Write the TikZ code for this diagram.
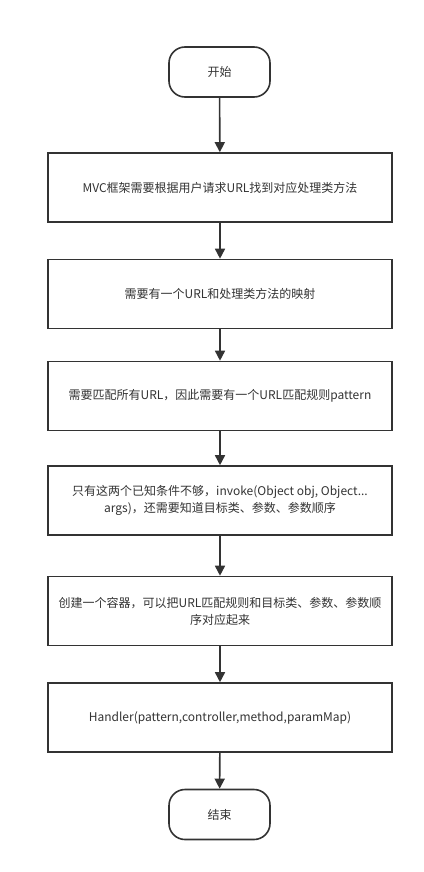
\documentclass[tikz,border=0pt]{standalone}
\usepackage{fontspec}
\setmainfont{Noto Sans CJK SC}
\usetikzlibrary{arrows.meta}
\definecolor{ink}{HTML}{333333}
\begin{document}
\begin{tikzpicture}[x=1pt,y=-1pt,
  term/.style={draw=ink,line width=1.6pt,rounded corners=16pt,minimum width=101pt,minimum height=50pt,text=ink,font=\fontsize{12}{17}\selectfont},
  stepbox/.style={draw=ink,line width=1.6pt,minimum width=344pt,minimum height=69pt,text=ink,align=center,font=\fontsize{12}{17}\selectfont},
  flow/.style={draw=ink,line width=1.6pt,-{Triangle[width=10pt,length=10pt]}}]
\useasboundingbox (0,0) rectangle (423,872);
\fill[white] (0,0) rectangle (423,872);
\node[term] (start) at (219.5,72) {开始};
\node[stepbox] (b1) at (220,187.5) {MVC框架需要根据用户请求URL找到对应处理类方法};
\node[stepbox] (b2) at (220,294) {需要有一个URL和处理类方法的映射};
\node[stepbox] (b3) at (220,396) {需要匹配所有URL，因此需要有一个URL匹配规则pattern};
\node[stepbox] (b4) at (220,500.5) {只有这两个已知条件不够，invoke(Object obj, Object...\\args)，还需要知道目标类、参数、参数顺序};
\node[stepbox] (b5) at (220,611) {创建一个容器，可以把URL匹配规则和目标类、参数、参数顺\\序对应起来};
\node[stepbox] (b6) at (220,717.5) {Handler(pattern,controller,method,paramMap)};
\node[term] (end) at (219.5,814.5) {结束};
\draw[flow] (start) -- (b1);
\draw[flow] (b1) -- (b2);
\draw[flow] (b2) -- (b3);
\draw[flow] (b3) -- (b4);
\draw[flow] (b4) -- (b5);
\draw[flow] (b5) -- (b6);
\draw[flow] (b6) -- (end);
\end{tikzpicture}
\end{document}
